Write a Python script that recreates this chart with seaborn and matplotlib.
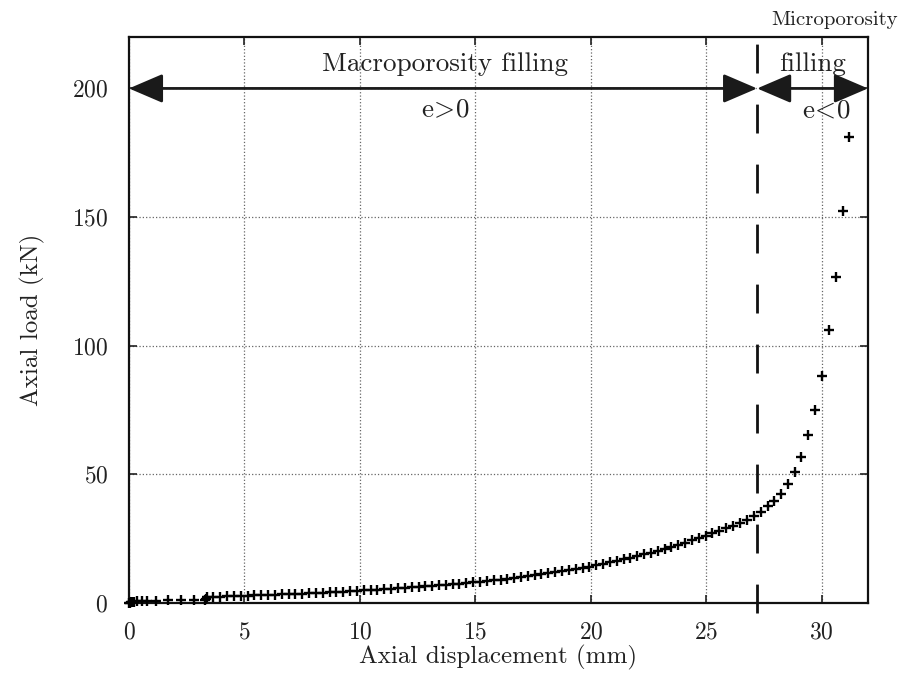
import numpy as np
import pandas as pd
import matplotlib
matplotlib.use('Agg')
import matplotlib.pyplot as plt
import matplotlib.transforms as mtransforms
import seaborn as sns

# Axial displacement (mm)
displacement = [0.00, 0.04, 0.08, 0.12, 0.20, 0.35, 0.55, 0.80, 1.18, 1.69, 2.26, 2.81, 3.30, 3.34,
                3.36, 3.66, 3.95, 4.25, 4.54, 4.84, 5.14, 5.43, 5.73, 6.02, 6.32, 6.62, 6.91, 7.21,
                7.50, 7.80, 8.10, 8.39, 8.69, 8.98, 9.28, 9.58, 9.87, 10.17, 10.46, 10.76, 11.06,
                11.35, 11.65, 11.94, 12.24, 12.54, 12.83, 13.13, 13.42, 13.72, 14.02, 14.31, 14.61,
                14.90, 15.20, 15.50, 15.79, 16.09, 16.38, 16.68, 16.98, 17.27, 17.57, 17.86, 18.16,
                18.46, 18.75, 19.05, 19.34, 19.64, 19.94, 20.23, 20.53, 20.82, 21.12, 21.42, 21.71,
                22.01, 22.30, 22.60, 22.90, 23.19, 23.49, 23.78, 24.08, 24.38, 24.67, 24.97, 25.26,
                25.56, 25.86, 26.16, 26.45, 26.75, 27.06, 27.35, 27.65, 27.94, 28.24, 28.53, 28.83,
                29.12, 29.42, 29.71, 30.00, 30.30, 30.60, 30.90, 31.20]

# Axial load (kN)
load = [0.1, 0.2, 0.3, 0.4, 0.5, 0.6, 0.7, 0.8, 0.9, 1.0, 1.0, 1.1, 1.3, 1.6,
        2.36, 2.43, 2.51, 2.59, 2.67, 2.75, 2.84, 2.93, 3.02, 3.12, 3.22, 3.32, 3.42, 3.53,
        3.64, 3.76, 3.88, 4.00, 4.12, 4.25, 4.39, 4.53, 4.67, 4.88, 5.04, 5.20, 5.36,
        5.52, 5.70, 5.87, 6.06, 6.25, 6.44, 6.65, 6.85, 7.07, 7.29, 7.52, 7.75,
        7.99, 8.18, 8.47, 8.76, 9.07, 9.37, 9.71, 10.05, 10.39, 10.75, 11.12, 11.51,
        11.91, 12.31, 12.74, 13.18, 13.67, 14.18, 14.69, 15.24, 15.79, 16.38, 16.99, 17.60,
        18.25, 18.91, 19.62, 20.35, 21.08, 21.87, 22.66, 23.50, 24.37, 25.26, 26.19, 27.14,
        28.15, 29.0, 29.9, 31.0, 32.2, 33.9, 35.5, 37.7, 39.7, 42.4, 46.2, 51.1,
        56.8, 65.2, 75.2, 88.3, 106.1, 126.7, 152.3, 181.0]

x_ticks = [0, 5, 10, 15, 20, 25, 30]
y_ticks = [0, 50, 100, 150, 200]
boundary = 27.2   # limit between macro and micro porosity filling

df = pd.DataFrame({'disp': displacement, 'load': load})

sns.set_style('ticks')
plt.rcParams['font.family'] = 'serif'
plt.rcParams['font.serif'] = ['cmr10', 'DejaVu Serif']
plt.rcParams['mathtext.fontset'] = 'cm'
plt.rcParams['axes.formatter.use_mathtext'] = True

fig = plt.figure(figsize=(9, 6.81), dpi=100)
ax = fig.add_axes([0.1433, 0.1145, 0.8211, 0.8312])

sns.scatterplot(data=df, x='disp', y='load', marker='+', s=60, color='black',
                linewidth=1.7, ax=ax, clip_on=False, zorder=5)

ax.set_xlim(0, 32)
ax.set_ylim(0, 220)
ax.set_xticks(x_ticks)
ax.set_yticks(y_ticks)
ax.grid(True, linestyle=':', linewidth=0.9, color='0.4')
ax.tick_params(direction='in', length=6, width=1.2, top=True, right=True,
               labelsize=17, colors='#222222')
ax.tick_params(axis='x', pad=13)
ax.tick_params(axis='y', pad=15)
for sp in ax.spines.values():
    sp.set_linewidth(1.6)
    sp.set_color('#111111')

ax.set_xlabel('Axial displacement (mm)', fontsize=18, color='#222222', labelpad=1)
ax.set_ylabel('Axial load (kN)', fontsize=18, color='#222222', labelpad=19)

# dashed boundary line, reaching a bit below the axis
trans = mtransforms.blended_transform_factory(ax.transData, ax.transAxes)
ax.plot([boundary, boundary], [-0.018, 1.0], transform=trans, color='#111111',
        lw=2.0, dashes=(10.4, 11.2), clip_on=False, zorder=4)

# arrows
arrow_kw = dict(arrowstyle='<|-|>,head_length=1.05,head_width=0.45', lw=2.0,
                color='#1a1a1a', shrinkA=0, shrinkB=0, mutation_scale=20)
ax.annotate('', xy=(0, 200), xytext=(boundary, 200), arrowprops=arrow_kw,
            annotation_clip=False)
ax.annotate('', xy=(boundary, 200), xytext=(32, 200), arrowprops=arrow_kw,
            annotation_clip=False)

txt = dict(fontsize=19.5, color='#222222', ha='center', va='center')
ax.text(13.7, 209.5, 'Macroporosity filling', **txt)
ax.text(13.7, 191.5, r'$\mathrm{e}\!>\!0$', **txt)
ax.text(29.6, 209.5, 'filling', **txt)
ax.text(30.2, 191.5, r'$\mathrm{e}\!<\!0$', **txt)
ax.text(30.55, 226.6, 'Microporosity', fontsize=15, color='#222222',
        ha='center', va='center')

fig.savefig('out.png', dpi=100)
